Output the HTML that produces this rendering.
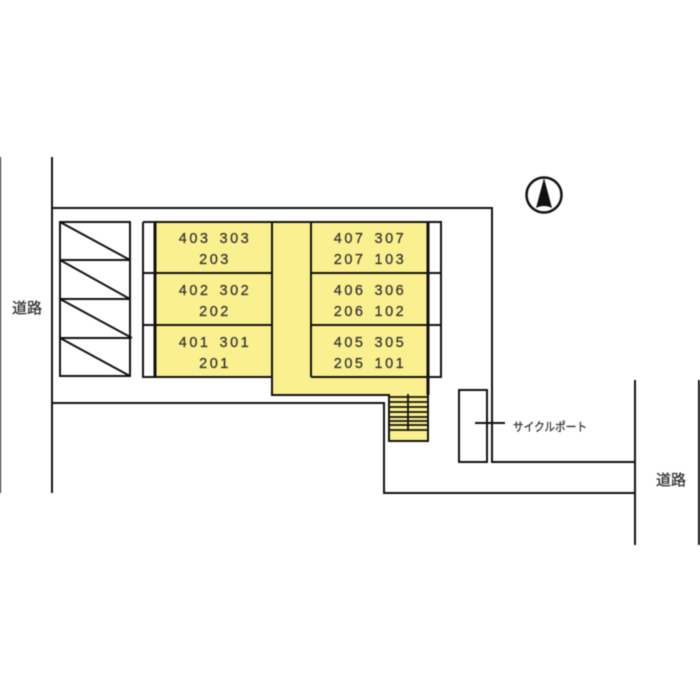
<!DOCTYPE html>
<html><head><meta charset="utf-8"><style>
html,body{margin:0;padding:0;background:#fff}
svg{display:block;filter:blur(.4px)}
text{font-family:"Liberation Sans","Noto Sans CJK JP",sans-serif;fill:#333}
.n{font-size:14.5px;letter-spacing:2.5px;word-spacing:2.5px;text-anchor:middle;stroke:#333;stroke-width:.25px}
.l{stroke:#111;stroke-width:2;fill:none}
</style></head><body>
<svg width="700" height="700" viewBox="0 0 700 700" xmlns="http://www.w3.org/2000/svg">
<rect width="700" height="700" fill="#fff"/>
<!-- yellow -->
<path d="M155 222H428V441H389V395H272V377H155Z" fill="#fbf08f"/>
<!-- roads / site -->
<g class="l">
<path d="M0 157V493M52 157V493M699 380V545M635 380V545"/>
<path d="M52 208H492V462H635M52 403H384V493H635"/>
<!-- parking -->
<path d="M60 222H130V376H60ZM60 260H130M60 299H130M60 338H130M60 222L130 260M60 260L130 299M60 299L132 338M60 338L130 376"/>
<!-- building -->
<path d="M143 222H441V377H311M272 377H143V222M143 273H272M143 325H272M311 273H441M311 325H441"/>
<path d="M272 222V395H389V441H428V395M311 222V377"/>
<path d="M155 222V377" stroke-width="3"/>
<path d="M428 222V395" stroke-width="3"/>
<!-- stairs -->
<path d="M389 397H428M389 402H428M389 407H428M389 412H428M389 417H428M389 421H428M389 425H428M389 430H428M408 394V431" stroke-width="1.8"/>
<!-- cycle port -->
<path d="M459 390H487V462H459ZM475 423H505"/>
</g>
<!-- compass -->
<circle cx="544" cy="195" r="17.5" fill="none" stroke="#111" stroke-width="2.5"/>
<path d="M544 178L552 208Q544 204 536 208Z" fill="#111"/>
<!-- labels -->
<g class="n">
<text x="215" y="243">403 303</text><text x="215" y="264">203</text>
<text x="215" y="295">402 302</text><text x="215" y="316">202</text>
<text x="215" y="347">401 301</text><text x="215" y="368">201</text>
<text x="370" y="243">407 307</text><text x="370" y="264">207 103</text>
<text x="370" y="295">406 306</text><text x="370" y="316">206 102</text>
<text x="370" y="347">405 305</text><text x="370" y="368">205 101</text>
</g>
<text x="12" y="313" font-size="15" stroke="#333" stroke-width=".3">道路</text>
<text x="656" y="485" font-size="15" stroke="#333" stroke-width=".3">道路</text>
<text x="513" y="431" font-size="12" textLength="74" lengthAdjust="spacingAndGlyphs" stroke="#333" stroke-width=".3">サイクルポート</text>
</svg>
</body></html>
